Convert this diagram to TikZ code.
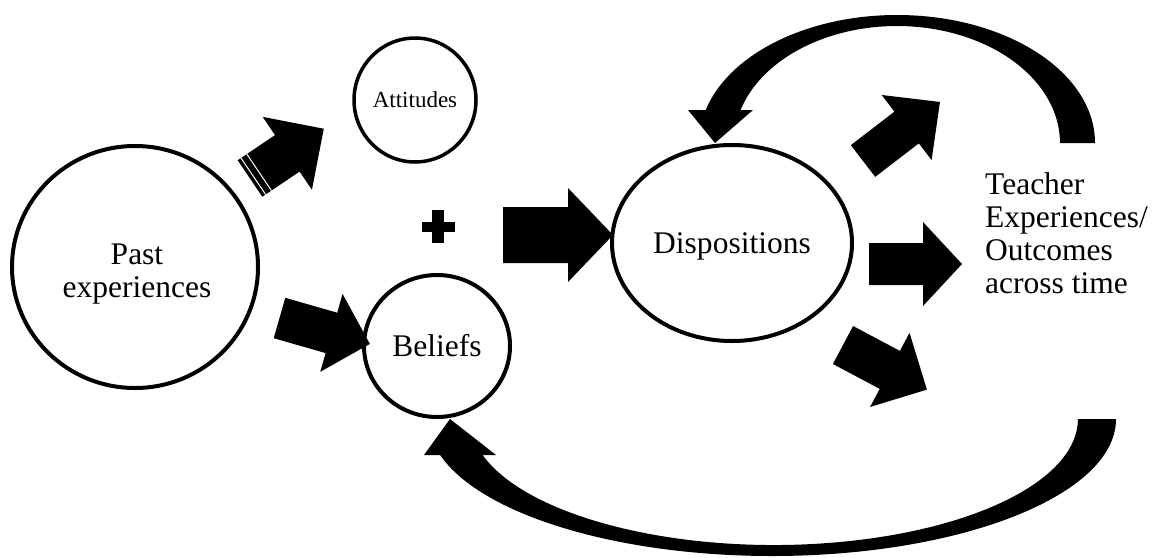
\documentclass[tikz,border=0pt]{standalone}
\usepackage{fontspec}
\setmainfont{Liberation Serif}
\usetikzlibrary{shapes.geometric}

% block arrow: #1 tail centre, #2 angle, #3 shaft length, #4 shaft half width,
% #5 head half width, #6 head length
\newcommand{\blkarrow}[6]{%
  \fill[shift={#1}, rotate=#2]
    (0,-#4) -- (#3,-#4) -- (#3,-#5) -- ({#3+#6},0) -- (#3,#5) -- (#3,#4) -- (0,#4) -- cycle;}

\tikzset{
  bubble/.style={ellipse, draw, line width=4pt, fill=white, inner sep=0pt},
  bigtext/.style={font=\fontsize{31.5}{33}\selectfont, align=center, inner sep=0pt},
  sidetext/.style={font=\fontsize{31.5}{33}\selectfont, align=left, anchor=west, inner sep=0pt}
}

\begin{document}
\begin{tikzpicture}[x=1pt, y=-1pt]
  \useasboundingbox (0,0) rectangle (1155,557);

  % concept bubbles
  \node[bubble, minimum width=246pt, minimum height=242pt] (past) at (135,267) {};
  \node[bubble, minimum width=122pt, minimum height=124pt, line width=3.5pt] (att) at (415,100) {};
  \node[bubble, minimum width=146pt, minimum height=142pt] (bel) at (437,346) {};
  \node[bubble, minimum width=240pt, minimum height=196pt] (disp) at (732,243) {};

  % their labels
  \node[bigtext] (pastlbl) at (137,274) {Past\\experiences};
  \node[font=\fontsize{23}{25}\selectfont, inner sep=0pt] (attlbl) at (att.center) {Attitudes};
  \node[bigtext] (bellbl) at (437,346) {Beliefs};
  \node[bigtext] (displbl) at (732,246) {Dispositions};
  \node[sidetext] (out) at (985,233) {Teacher\\Experiences/\\Outcomes\\across time};

  % plus sign
  \fill (422,222) rectangle (455,232);
  \fill (432,210) rectangle (444,243);

  % straight block arrows
  \blkarrow{(250,178.5)}{34}{45}{22}{44}{44}
  \draw[white, line width=1pt, shift={(250,178.5)}, rotate=34] (4,-22) -- (4,22) (11,-22) -- (11,22);
  \blkarrow{(279.5,318)}{-16}{54}{21}{40.5}{40}
  \blkarrow{(503,235)}{0}{65}{28}{47}{45}
  \blkarrow{(863,161)}{37.5}{55}{20}{41}{42}
  \blkarrow{(869,264)}{0}{54}{21}{42}{39}
  \blkarrow{(843,345)}{-28}{53}{21.5}{42}{42}

  % feedback arrow over the top, back into the dispositions
  \fill (1095,143)
    arc[start angle=0, end angle=165.06, x radius=198pt, y radius=128pt]
    -- (688,110) -- (715,143) -- (753,110) -- (740.6,110)
    arc[start angle=163.6, end angle=0, x radius=163pt, y radius=117pt]
    -- cycle;

  % feedback arrow underneath, back into the beliefs
  \fill (1116,419)
    arc[start angle=0, end angle=-164.76, x radius=344pt, y radius=137pt]
    -- (424,455) -- (450,419) -- (496,455) -- (482.6,455)
    arc[start angle=-163.4, end angle=0, x radius=304pt, y radius=126pt]
    -- cycle;
\end{tikzpicture}
\end{document}
